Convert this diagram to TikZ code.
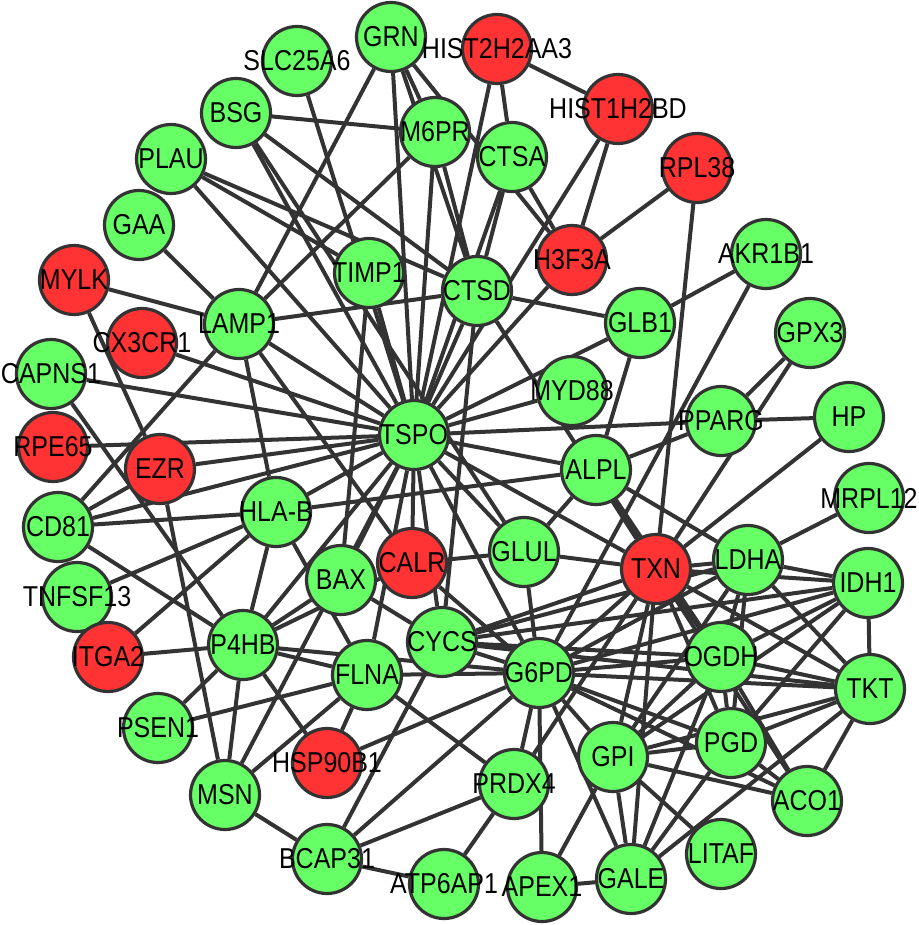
\documentclass[tikz,border=0pt]{standalone}
\usepackage{fontspec}
\setmainfont{Liberation Sans}
\usetikzlibrary{backgrounds}
\definecolor{ngreen}{HTML}{66FF66}
\definecolor{nred}{HTML}{FF3333}
\definecolor{edgec}{HTML}{333333}
\begin{document}
\begin{tikzpicture}[x=1pt,y=-1pt,
  gn/.style={circle,draw=edgec,line width=3.2pt,fill=ngreen,minimum size=69pt,inner sep=0pt},
  rn/.style={gn,fill=nred},
  lbl/.style={font=\fontsize{25}{25}\selectfont,text=black,inner sep=0pt},
  edge/.style={draw=edgec,line width=4pt}]
\useasboundingbox (0,0) rectangle (918,925);
% nodes (circles)
\foreach \n/\x/\y/\c in {
  GRN/391/37/gn, SLC25A6/297/61/gn, HIST2H2AA3/497/49/rn, HIST1H2BD/618/109/rn,
  BSG/236/113/gn, M6PR/435/132/gn, CTSA/512/157/gn, PLAU/171/159/gn,
  RPL38/697/168/rn, GAA/139/225/gn, TIMP1/369/273/gn, H3F3A/572/260/rn,
  AKR1B1/766/254/gn, CTSD/477/291/gn, MYLK/74/280/rn, LAMP1/239/324/gn,
  CX3CR1/142/343/rn, GLB1/640/323/gn, GPX3/810/333/gn, CAPNS1/51/374/gn,
  MYD88/572/391/gn, PPARG/721/421/gn, HP/849/417/gn, TSPO/414/435/gn,
  RPE65/53/447/rn, EZR/160/469/rn, ALPL/596/470/gn, MRPL12/869/498/gn,
  HLAB/276/512/gn, CD81/58/527/gn, GLUL/524/552/gn, CALR/412/563/rn,
  TXN/656/569/rn, LDHA/748/560/gn, IDH1/868/583/gn, BAX/341/580/gn,
  TNFSF13/77/597/gn, P4HB/243/645/gn, CYCS/442/642/gn, G6PD/539/673/gn,
  OGDH/721/657/gn, TKT/870/689/gn, ITGA2/108/657/rn, FLNA/367/675/gn,
  PSEN1/158/728/gn, HSP90B1/327/763/rn, MSN/225/795/gn, GPI/613/757/gn,
  PGD/731/743/gn, PRDX4/514/784/gn, ACO1/807/801/gn, LITAF/721/854/gn,
  BCAP31/327/859/gn, ATP6AP1/444/884/gn, APEX1/542/887/gn, GALE/631/879/gn}
  \node[\c] (\n) at (\x,\y) {};
% labels
\foreach \n/\t in {
  GRN/GRN, SLC25A6/SLC25A6, HIST2H2AA3/HIST2H2AA3, HIST1H2BD/HIST1H2BD,
  BSG/BSG, M6PR/M6PR, CTSA/CTSA, PLAU/PLAU, RPL38/RPL38, GAA/GAA,
  TIMP1/TIMP1, H3F3A/H3F3A, AKR1B1/AKR1B1, CTSD/CTSD, MYLK/MYLK,
  LAMP1/LAMP1, CX3CR1/CX3CR1, GLB1/GLB1, GPX3/GPX3, CAPNS1/CAPNS1,
  MYD88/MYD88, PPARG/PPARG, HP/HP, TSPO/TSPO, RPE65/RPE65, EZR/EZR,
  ALPL/ALPL, MRPL12/MRPL12, HLAB/HLA-B, CD81/CD81, GLUL/GLUL, CALR/CALR,
  TXN/TXN, LDHA/LDHA, IDH1/IDH1, BAX/BAX, TNFSF13/TNFSF13, P4HB/P4HB,
  CYCS/CYCS, G6PD/G6PD, OGDH/OGDH, TKT/TKT, ITGA2/ITGA2, FLNA/FLNA,
  PSEN1/PSEN1, HSP90B1/HSP90B1, MSN/MSN, GPI/GPI, PGD/PGD, PRDX4/PRDX4,
  ACO1/ACO1, LITAF/LITAF, BCAP31/BCAP31, ATP6AP1/ATP6AP1, APEX1/APEX1,
  GALE/GALE}
  \node[lbl] (\n t) at (\n) {\scalebox{1}[1.15]{\t}};
% edges
\begin{scope}[on background layer]
\fill[white] (0,0) rectangle (918,925);
\foreach \a/\b in {
  GRN/M6PR, GRN/LAMP1, GRN/TSPO, GRN/CTSD, GRN/H3F3A,
  SLC25A6/TSPO,
  HIST2H2AA3/HIST1H2BD, HIST2H2AA3/CTSA, HIST2H2AA3/TSPO,
  HIST1H2BD/H3F3A, HIST1H2BD/TSPO,
  BSG/M6PR, BSG/CTSD, BSG/TSPO, BSG/GLUL,
  M6PR/CTSD, M6PR/TSPO, M6PR/LAMP1,
  CTSA/CTSD, CTSA/TSPO, CTSA/H3F3A,
  PLAU/TSPO, PLAU/CTSD, PLAU/TIMP1,
  GAA/LAMP1,
  TIMP1/TSPO, TIMP1/BAX,
  H3F3A/RPL38, H3F3A/TSPO,
  RPL38/TXN,
  AKR1B1/GLB1, AKR1B1/G6PD,
  CTSD/GLB1, CTSD/TSPO, CTSD/CYCS, CTSD/TXN, CTSD/LAMP1,
  MYLK/EZR, MYLK/LAMP1,
  LAMP1/TSPO, LAMP1/HLAB, LAMP1/CALR, LAMP1/CD81,
  CX3CR1/TSPO,
  GLB1/TSPO, GLB1/ALPL,
  GPX3/PPARG, GPX3/TXN,
  CAPNS1/TSPO, CAPNS1/P4HB,
  MYD88/TSPO,
  PPARG/HP, PPARG/TSPO, PPARG/ALPL,
  HP/TXN,
  TSPO/RPE65, TSPO/EZR, TSPO/CD81, TSPO/HLAB, TSPO/ALPL, TSPO/CALR,
  TSPO/BAX, TSPO/CYCS, TSPO/G6PD, TSPO/GLUL, TSPO/TXN, TSPO/P4HB,
  TSPO/FLNA, TSPO/MSN,
  EZR/MSN, EZR/CD81,
  CD81/HLAB, CD81/P4HB,
  TNFSF13/HLAB,
  HLAB/P4HB, HLAB/ITGA2, HLAB/FLNA, HLAB/ALPL,
  BAX/CYCS, BAX/P4HB,
  CALR/GLUL, CALR/P4HB, CALR/G6PD,
  GLUL/TXN, GLUL/ALPL, GLUL/G6PD,
  CYCS/G6PD, CYCS/TXN, CYCS/LDHA, CYCS/OGDH, CYCS/IDH1, CYCS/TKT, CYCS/BCAP31,
  FLNA/G6PD, FLNA/HSP90B1, FLNA/PRDX4, FLNA/P4HB, FLNA/MSN, FLNA/PSEN1,
  HSP90B1/G6PD, HSP90B1/P4HB,
  MSN/P4HB, MSN/BCAP31,
  PSEN1/P4HB,
  ITGA2/P4HB,
  P4HB/G6PD,
  BCAP31/G6PD, BCAP31/PRDX4, BCAP31/ATP6AP1,
  PRDX4/G6PD, PRDX4/ATP6AP1, PRDX4/TXN,
  APEX1/G6PD, APEX1/GALE, APEX1/GPI,
  TXN/LDHA, TXN/OGDH, TXN/IDH1, TXN/TKT, TXN/PGD, TXN/GPI, TXN/G6PD,
  TXN/GALE, TXN/ACO1, TXN/ALPL,
  G6PD/LDHA, G6PD/OGDH, G6PD/IDH1, G6PD/TKT, G6PD/PGD, G6PD/GPI,
  G6PD/GALE, G6PD/ACO1,
  LDHA/OGDH, LDHA/PGD, LDHA/GPI, LDHA/TKT, LDHA/IDH1, LDHA/MRPL12, LDHA/ALPL,
  IDH1/OGDH, IDH1/PGD, IDH1/GPI, IDH1/TKT,
  OGDH/TKT, OGDH/PGD, OGDH/GPI, OGDH/ACO1, OGDH/GALE, OGDH/ALPL,
  TKT/PGD, TKT/GPI, TKT/ACO1, TKT/GALE,
  PGD/GPI, PGD/ACO1, PGD/GALE,
  GPI/ACO1, GPI/LITAF, GPI/GALE}
  \draw[edge] (\a) -- (\b);
\end{scope}
\end{tikzpicture}
\end{document}
